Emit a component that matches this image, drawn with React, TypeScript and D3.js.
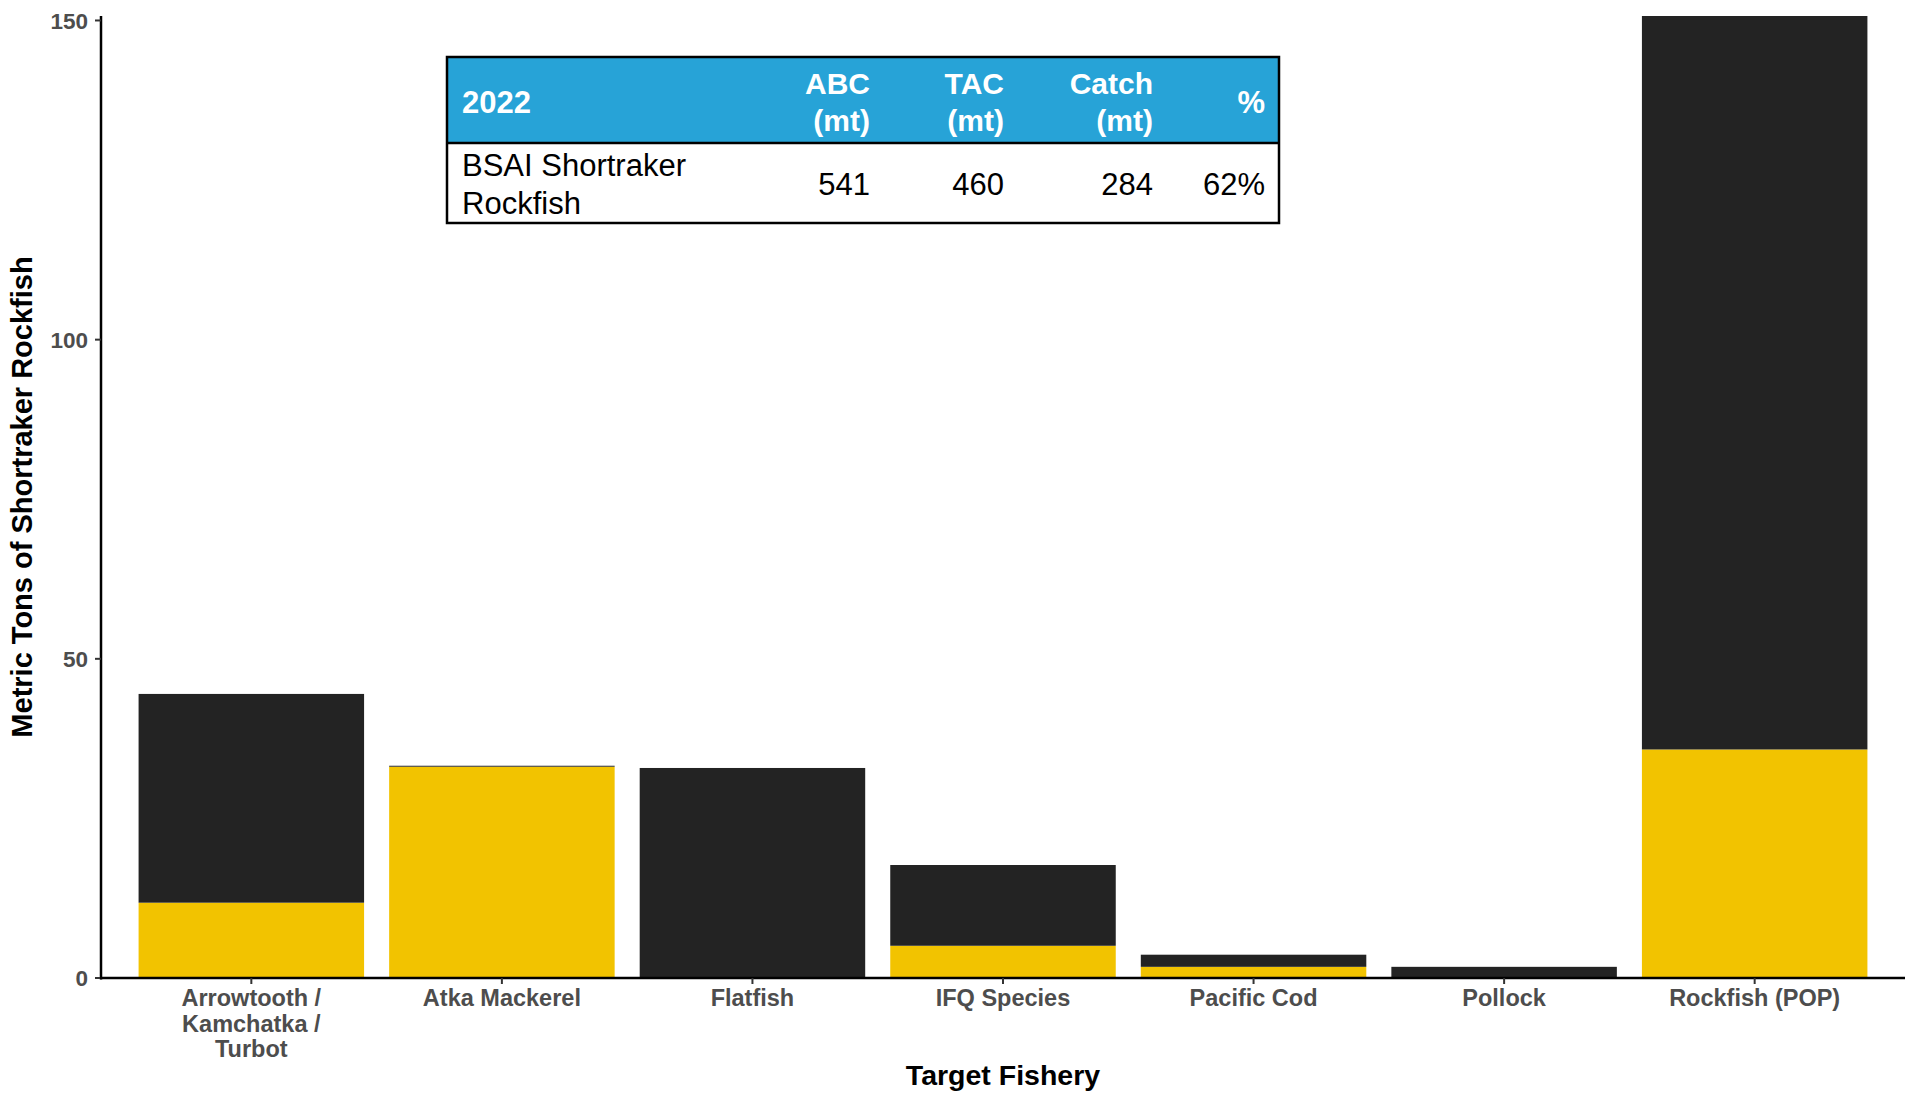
import React from "react";
import * as d3 from "d3";

const categories = [
  "Arrowtooth / Kamchatka / Turbot",
  "Atka Mackerel",
  "Flatfish",
  "IFQ Species",
  "Pacific Cod",
  "Pollock",
  "Rockfish (POP)",
];
const categoryLines = [
  ["Arrowtooth /", "Kamchatka /", "Turbot"],
  ["Atka Mackerel"],
  ["Flatfish"],
  ["IFQ Species"],
  ["Pacific Cod"],
  ["Pollock"],
  ["Rockfish (POP)"],
];
const yellowSeries = [11.8, 33.1, 0, 5.05, 1.75, 0, 35.8];
const blackSeries = [32.7, 0.15, 32.9, 12.65, 1.9, 1.75, 114.9];
const yTicks = [0, 50, 100, 150];

const tableHeader = ["2022", "ABC\n(mt)", "TAC\n(mt)", "Catch\n(mt)", "%"];
const tableRow = ["BSAI Shortraker\nRockfish", "541", "460", "284", "62%"];

const W = 1905;
const H = 1093;
const FONT = "Liberation Sans, Arial, Helvetica, sans-serif";

export default function App() {
  const left = 101;
  const right = 1905;
  const bottom = 978;
  const top = 16;

  const x = d3
    .scaleBand<string>()
    .domain(categories)
    .range([left, right])
    .paddingInner(0.1)
    .paddingOuter(0.15);

  const totals = categories.map((_, i) => yellowSeries[i] + blackSeries[i]);
  const yMax = d3.max(totals) as number;
  const y = d3.scaleLinear().domain([0, yMax]).range([bottom, top]);

  const stackData = categories.map((c, i) => ({
    cat: c,
    yellow: yellowSeries[i],
    black: blackSeries[i],
  }));
  const stack = d3.stack<any>().keys(["yellow", "black"])(stackData);
  const colors: Record<string, string> = { yellow: "#F2C300", black: "#232323" };

  // table layout
  const tL = 447, tR = 1279, tT = 57, tHB = 143, tB = 223;
  const colRight = [0, 870, 1004, 1153, 1265];

  return (
    <div style={{ position: "absolute", left: 0, top: 0 }}>
      <svg width={W} height={H} style={{ display: "block", background: "#fff" }} fontFamily={FONT}>
        {/* bars */}
        {stack.map((layer) => (
          <g key={layer.key} fill={colors[layer.key]}>
            {layer.map((d, i) => {
              const h = y(d[0]) - y(d[1]);
              if (h <= 0) return null;
              return (
                <rect
                  key={i}
                  x={x(categories[i])}
                  width={x.bandwidth()}
                  y={y(d[1])}
                  height={h}
                />
              );
            })}
          </g>
        ))}

        {/* y axis */}
        <line x1={left} x2={left} y1={top} y2={bottom + 1.5} stroke="#000" strokeWidth={2.5} />
        {yTicks.map((t) => (
          <g key={t}>
            <line x1={left - 6} x2={left} y1={y(t)} y2={y(t)} stroke="#333" strokeWidth={2} />
            <text
              x={left - 13}
              y={y(t)}
              dy="0.36em"
              textAnchor="end"
              fontSize={22.5}
              fontWeight="bold"
              fill="#4D4D4D"
            >
              {t}
            </text>
          </g>
        ))}

        {/* x axis */}
        <line x1={left - 1} x2={W} y1={bottom} y2={bottom} stroke="#000" strokeWidth={2.5} />
        {categories.map((c, i) => {
          const cx = (x(c) as number) + x.bandwidth() / 2;
          return (
            <g key={c}>
              <line x1={cx} x2={cx} y1={bottom} y2={bottom + 6} stroke="#333" strokeWidth={2} />
              <text textAnchor="middle" fontSize={23.5} fontWeight="bold" fill="#4D4D4D">
                {categoryLines[i].map((l, k) => (
                  <tspan key={k} x={cx} y={1006 + k * 25.5}>
                    {l}
                  </tspan>
                ))}
              </text>
            </g>
          );
        })}

        {/* axis titles */}
        <text x={1003} y={1085} textAnchor="middle" fontSize={28.5} fontWeight="bold" fill="#000">
          Target Fishery
        </text>
        <text
          transform={`translate(32,${(top + bottom) / 2}) rotate(-90)`}
          textAnchor="middle"
          fontSize={29}
          fontWeight="bold"
          fill="#000"
        >
          Metric Tons of Shortraker Rockfish
        </text>

        {/* table */}
        <rect x={tL} y={tT} width={tR - tL} height={tHB - tT} fill="#27A3D7" />
        <rect x={tL} y={tHB} width={tR - tL} height={tB - tHB} fill="#fff" />
        <line x1={tL} x2={tR} y1={tHB} y2={tHB} stroke="#000" strokeWidth={2.5} />
        <rect x={tL} y={tT} width={tR - tL} height={tB - tT} fill="none" stroke="#000" strokeWidth={2.5} />

        {tableHeader.map((h, i) => {
          const lines = h.split("\n");
          if (i === 0) {
            return (
              <text key={i} x={462} y={113} fontSize={31} fontWeight="bold" fill="#fff">
                {h}
              </text>
            );
          }
          if (lines.length === 1) {
            return (
              <text key={i} x={colRight[i]} y={113} textAnchor="end" fontSize={31} fontWeight="bold" fill="#fff">
                {h}
              </text>
            );
          }
          return (
            <text key={i} textAnchor="end" fontSize={30} fontWeight="bold" fill="#fff">
              {lines.map((l, k) => (
                <tspan key={k} x={colRight[i]} y={94 + k * 37}>
                  {l}
                </tspan>
              ))}
            </text>
          );
        })}

        {tableRow.map((v, i) => {
          if (i === 0) {
            return (
              <text key={i} fontSize={31} fill="#000">
                {v.split("\n").map((l, k) => (
                  <tspan key={k} x={462} y={176 + k * 38}>
                    {l}
                  </tspan>
                ))}
              </text>
            );
          }
          return (
            <text key={i} x={colRight[i]} y={195} textAnchor="end" fontSize={31} fill="#000">
              {v}
            </text>
          );
        })}
      </svg>
    </div>
  );
}
